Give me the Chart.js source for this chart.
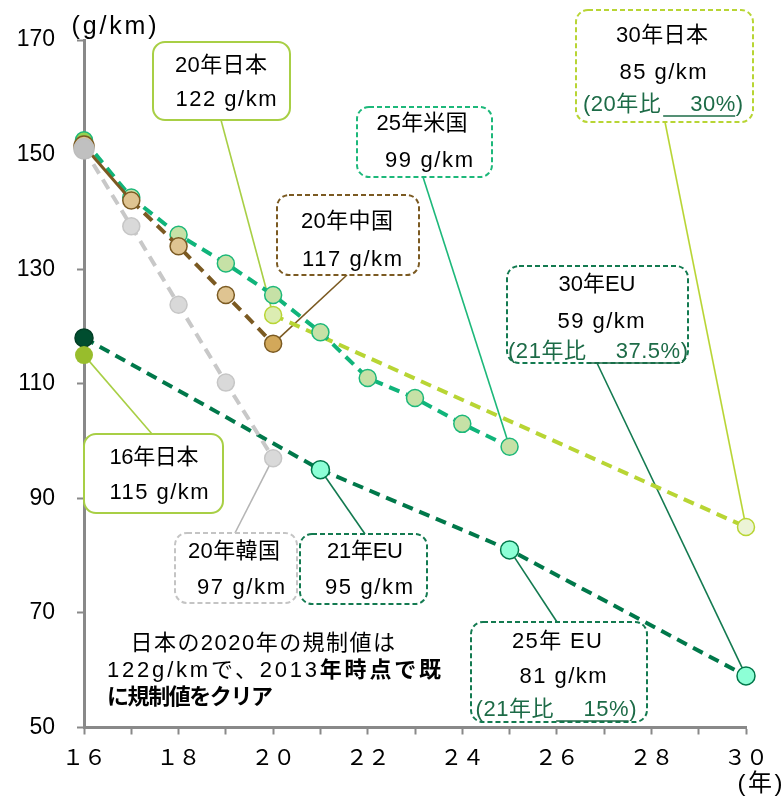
<!DOCTYPE html>
<html lang="ja">
<head>
<meta charset="utf-8">
<script src="https://cdn.jsdelivr.net/npm/chart.js@4.4.1/dist/chart.umd.min.js"></script>
<style>
  html, body { margin: 0; padding: 0; background: #fff; }
  #wrap { width: 781px; height: 797px; position: relative; }
</style>
</head>
<body>
<div id="wrap"><canvas id="c"></canvas></div>
<script>
// 燃費規制値の推移（年は20XXの下2桁、単位 g/km）
const koreaYears = [16, 17, 18, 19, 20];
const koreaValues = [151, 137.5, 123.8, 110.2, 97];
const chinaYears = [16, 17, 18, 19, 20];
const chinaValues = [151.5, 142, 134, 125.5, 117];
const usYears = [16, 17, 18, 19, 20, 21, 22, 23, 24, 25];
const usValues = [152.5, 142.5, 136, 131, 125.5, 119, 111, 107.5, 103, 99];
const japanYears = [20, 30];
const japanValues = [122, 85];
const japanBaseYears = [16];
const japanBaseValues = [115];
const euYears = [16, 21, 25, 30];
const euValues = [118, 95, 81, 59];

const xTickYears = [16, 18, 20, 22, 24, 26, 28, 30];
const xTickLabels = ['１６', '１８', '２０', '２２', '２４', '２６', '２８', '３０'];
const yTickLabels = [50, 70, 90, 110, 130, 150, 170];

const SANS = '"Liberation Sans", "Noto Sans CJK JP", sans-serif';
const JP = '"Noto Sans CJK JP", sans-serif';
const DASH = [11, 7];
const AXIS = '#898989';
const TXT_GREEN = '#1d6b47';

const pts = (xs, ys) => xs.map((x, k) => ({ x, y: ys[k] }));
const first = (a, b) => ctx => (ctx.dataIndex === 0 ? a : b);

const datasets = [
  { // 0 韓国
    data: pts(koreaYears, koreaValues),
    borderColor: '#c8c8c8', borderWidth: 4, borderDash: DASH,
    pointBackgroundColor: first('#c0c0c0', '#d9d9d9'),
    pointBorderColor: first('#bdbdbd', '#c6c6c6'),
    pointRadius: first(10, 8.5), pointBorderWidth: 1.5, clip: false
  },
  { // 1 中国
    data: pts(chinaYears, chinaValues),
    borderColor: '#7b5a22', borderWidth: 4, borderDash: DASH,
    segment: {
      borderDash: c => (c.p0DataIndex === 0 ? [] : DASH),
      borderWidth: c => (c.p0DataIndex === 0 ? 3 : 4)
    },
    pointBackgroundColor: ctx => (ctx.dataIndex === 4 ? '#d2a85a' : '#dfc491'),
    pointBorderColor: '#7b5a22',
    pointRadius: first(10, 8.5), pointBorderWidth: 1.5, clip: false
  },
  { // 2 米国
    data: pts(usYears, usValues),
    borderColor: '#10b47a', borderWidth: 4, borderDash: DASH,
    pointBackgroundColor: first('#94d251', '#c6e1a6'),
    pointBorderColor: '#1db87a',
    pointRadius: 8.5, pointBorderWidth: 1.5, clip: false
  },
  { // 3 日本（目標）
    data: pts(japanYears, japanValues),
    borderColor: '#b8d534', borderWidth: 4, borderDash: DASH,
    pointBackgroundColor: first('#dcedb2', '#ecf4d6'),
    pointBorderColor: '#b8d534',
    pointRadius: 8.5, pointBorderWidth: 1.5, clip: false
  },
  { // 4 日本（16年実績）
    data: pts(japanBaseYears, japanBaseValues),
    showLine: false,
    pointBackgroundColor: '#98bd2c', pointBorderColor: '#98bd2c',
    pointRadius: 9, pointBorderWidth: 0, clip: false
  },
  { // 5 EU
    data: pts(euYears, euValues),
    borderColor: '#00784a', borderWidth: 4, borderDash: DASH,
    pointBackgroundColor: first('#004d2f', '#8dffd6'),
    pointBorderColor: first('#003e25', '#00784a'),
    pointRadius: 9, pointBorderWidth: 1.5, clip: false
  }
];

// 吹き出し（ds / i で指す点から枠へ引出線）
const gkm = v => `${v} g/km`;
const callouts = [
  { ds: 3, i: 0, box: [153, 42, 137, 78], dashed: false, color: '#a8cf45', from: [221, 120],
    lines: [{ x: 221, y: 66, w: 92, segs: [{ t: '20年日本' }] },
            { x: 226, y: 100, w: 101, segs: [{ t: gkm(japanValues[0]) }] }] },
  { ds: 1, i: 4, box: [277, 195, 142, 80], dashed: true, color: '#7b5a22', from: [347, 275],
    lines: [{ x: 347, y: 222, w: 92, segs: [{ t: '20年中国' }] },
            { x: 352, y: 260, w: 100, segs: [{ t: gkm(chinaValues[4]) }] }] },
  { ds: 2, i: 9, box: [357, 107, 135, 70], dashed: true, color: '#1db87a', from: [423, 177],
    lines: [{ x: 422, y: 124, w: 91, segs: [{ t: '25年米国' }] },
            { x: 429, y: 161, w: 88, segs: [{ t: gkm(usValues[9]) }] }] },
  { ds: 3, i: 1, box: [576, 10, 177, 112], dashed: true, color: '#b8d534', from: [665, 122],
    lines: [{ x: 662, y: 36, w: 92, segs: [{ t: '30年日本' }] },
            { x: 663, y: 73, w: 87, segs: [{ t: gkm(japanValues[1]) }] },
            { x: 663, y: 105, w: 160, segs: [{ t: '(20年比', c: TXT_GREEN }, { t: '\u3000 30%', c: TXT_GREEN, u: true }, { t: ')', c: TXT_GREEN }] }] },
  { ds: 5, i: 3, box: [507, 266, 181, 97], dashed: true, color: '#137a50', from: [597, 363],
    lines: [{ x: 597, y: 285, w: 77, segs: [{ t: '30年EU' }] },
            { x: 601, y: 322, w: 87, segs: [{ t: gkm(euValues[3]) }] },
            { x: 598, y: 352, w: 180, segs: [{ t: '(21年比', c: TXT_GREEN }, { t: '\u3000 37.5%', c: TXT_GREEN, u: true }, { t: ')', c: TXT_GREEN }] }] },
  { ds: 4, i: 0, box: [84, 434, 139, 79], dashed: false, color: '#a8cf45', from: [152, 434],
    lines: [{ x: 154, y: 458, w: 89, segs: [{ t: '16年日本' }] },
            { x: 159, y: 493, w: 99, segs: [{ t: gkm(japanBaseValues[0]) }] }] },
  { ds: 0, i: 4, box: [175, 533, 122, 70], dashed: true, color: '#c4c4c4', lead: '#b5b5b5', from: [235, 533],
    lines: [{ x: 234, y: 552, w: 92, segs: [{ t: '20年韓国' }] },
            { x: 241, y: 588, w: 88, segs: [{ t: gkm(koreaValues[4]) }] }] },
  { ds: 5, i: 1, box: [300, 534, 127, 70], dashed: true, color: '#137a50', from: [365, 534],
    lines: [{ x: 365, y: 552, w: 76, segs: [{ t: '21年EU' }] },
            { x: 369, y: 588, w: 88, segs: [{ t: gkm(euValues[1]) }] }] },
  { ds: 5, i: 2, box: [471, 622, 176, 100], dashed: true, color: '#137a50', from: [557, 622],
    lines: [{ x: 557, y: 642, w: 90, segs: [{ t: '25年 EU' }] },
            { x: 563, y: 677, w: 87, segs: [{ t: gkm(euValues[2]) }] },
            { x: 556, y: 710, w: 161, segs: [{ t: '(21年比', c: TXT_GREEN }, { t: '\u3000 15%', c: TXT_GREEN, u: true }, { t: ')', c: TXT_GREEN }] }] }
];

// 左下の注記
const noteLines = [
  { x: 107, y: 644, w: 288, segs: [{ t: '\u3000日本の2020年の規制値は' }] },
  { x: 107, y: 671, w: 334, segs: [{ t: '122g/kmで、2013' }, { t: '年時点で既', b: true }] },
  { x: 107, y: 698, w: 166, segs: [{ t: 'に規制値をクリア', b: true }] }
];

// 文字列を指定幅に収まるよう字間を調整して描く
function drawLine(ctx, line, size, family, align) {
  ctx.save();
  ctx.textBaseline = 'middle';
  ctx.textAlign = 'left';
  ctx.letterSpacing = '0px';
  let natural = 0, n = 0;
  line.segs.forEach(s => {
    ctx.font = `${s.b ? 'bold ' : ''}${size}px ${family}`;
    natural += ctx.measureText(s.t).width;
    n += [...s.t].length;
  });
  const ls = line.w ? (line.w - natural) / Math.max(1, n - 1) : 0;
  const total = line.w || natural;
  let x = align === 'left' ? line.x : line.x - total / 2;
  line.segs.forEach(s => {
    ctx.font = `${s.b ? 'bold ' : ''}${size}px ${family}`;
    ctx.letterSpacing = `${ls}px`;
    const sw = ctx.measureText(s.t).width;
    ctx.fillStyle = s.c || '#000';
    ctx.fillText(s.t, x, line.y);
    if (s.u) {
      ctx.strokeStyle = s.c || '#000';
      ctx.lineWidth = 1.5;
      ctx.beginPath();
      ctx.moveTo(x + 2, line.y + size * 0.5);
      ctx.lineTo(x + sw - ls, line.y + size * 0.5);
      ctx.stroke();
    }
    x += sw;
  });
  ctx.restore();
}

function roundRect(ctx, x, y, w, h, r) {
  ctx.beginPath();
  ctx.moveTo(x + r, y);
  ctx.arcTo(x + w, y, x + w, y + h, r);
  ctx.arcTo(x + w, y + h, x, y + h, r);
  ctx.arcTo(x, y + h, x, y, r);
  ctx.arcTo(x, y, x + w, y, r);
  ctx.closePath();
}

const calloutPlugin = {
  id: 'callouts',
  beforeDatasetsDraw(chart) {
    const ctx = chart.ctx;
    ctx.save();
    callouts.forEach(c => {
      const p = chart.getDatasetMeta(c.ds).data[c.i];
      ctx.strokeStyle = c.lead || c.color;
      ctx.lineWidth = 1.6;
      ctx.setLineDash([]);
      ctx.beginPath();
      ctx.moveTo(c.from[0], c.from[1]);
      ctx.lineTo(p.x, p.y);
      ctx.stroke();
    });
    ctx.restore();
  },
  afterDatasetsDraw(chart) {
    const ctx = chart.ctx;
    callouts.forEach(c => {
      ctx.save();
      const [x, y, w, h] = c.box;
      roundRect(ctx, x, y, w, h, 12);
      ctx.fillStyle = '#fff';
      ctx.fill();
      ctx.strokeStyle = c.color;
      ctx.lineWidth = 2;
      ctx.setLineDash(c.dashed ? [5, 3] : []);
      ctx.stroke();
      ctx.restore();
      c.lines.forEach(l => drawLine(ctx, l, 22, SANS, 'center'));
    });
    noteLines.forEach(l => drawLine(ctx, l, 22, SANS, 'left'));
    drawLine(ctx, { x: 114, y: 27, w: 85, segs: [{ t: '(g/km)' }] }, 25, SANS, 'center');
    drawLine(ctx, { x: 760, y: 784, w: 45, segs: [{ t: '(年)' }] }, 24, SANS, 'center');
  }
};

new Chart(document.getElementById('c'), {
  type: 'line',
  data: { datasets },
  options: {
    responsive: true,
    maintainAspectRatio: false,
    animation: false,
    events: [],
    layout: { padding: { top: 40, right: 35, left: 0, bottom: 0 } },
    plugins: { legend: { display: false }, tooltip: { enabled: false } },
    scales: {
      x: {
        type: 'linear', min: 16, max: 30,
        afterFit(s) { s.height = 69.5; },
        afterBuildTicks(s) {
          const t = [];
          for (let v = 16; v <= 30; v++) t.push({ value: v });
          s.ticks = t;
        },
        ticks: {
          autoSkip: false, maxRotation: 0, padding: 9, color: '#000',
          font: { family: JP, size: 22 },
          callback: v => { const k = xTickYears.indexOf(v); return k < 0 ? '' : xTickLabels[k]; }
        },
        grid: { display: true, drawOnChartArea: false, drawTicks: true, tickLength: 7, tickColor: AXIS, tickWidth: 2 },
        border: { display: true, color: AXIS, width: 3 }
      },
      y: {
        min: 50, max: 170,
        afterFit(s) { s.width = 84; },
        afterBuildTicks(s) { s.ticks = yTickLabels.map(v => ({ value: v })); },
        ticks: {
          autoSkip: false, padding: 22, color: '#000',
          font: { family: SANS, size: 23 },
          callback: v => String(v)
        },
        grid: { display: true, drawOnChartArea: false, drawTicks: true, tickLength: 7, tickColor: AXIS, tickWidth: 2 },
        border: { display: true, color: AXIS, width: 3 }
      }
    }
  },
  plugins: [calloutPlugin]
});
</script>
</body>
</html>
